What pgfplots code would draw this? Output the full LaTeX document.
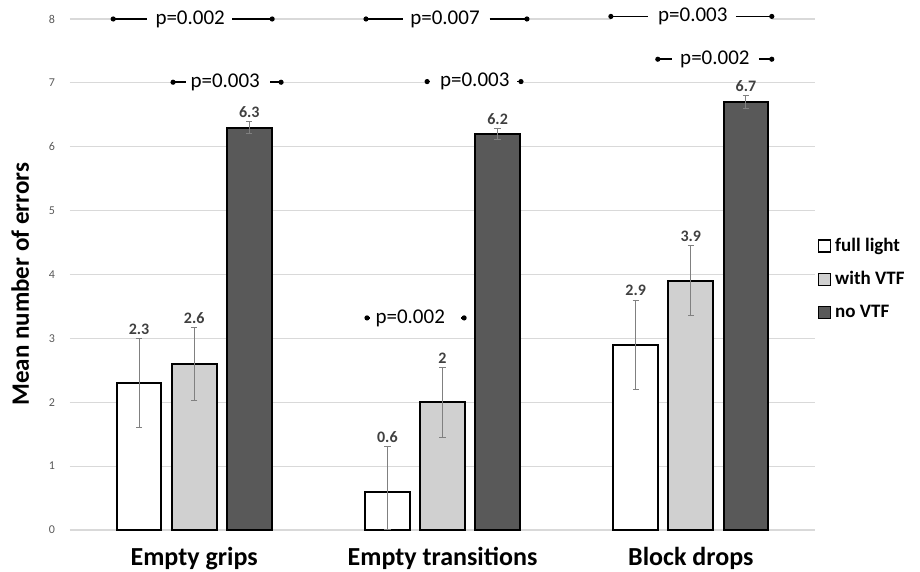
\documentclass[border=0pt]{standalone}
\usepackage{pgfplots}
\pgfplotsset{compat=1.18}
\usepackage{pgfplotstable}
\usepackage{fontspec}
\setmainfont{Carlito}
\definecolor{lgray}{HTML}{D0D0D0}
\definecolor{dgray}{HTML}{595959}
\definecolor{gridc}{HTML}{D9D9D9}
\definecolor{tickc}{HTML}{595959}
\definecolor{valc}{HTML}{404040}

\pgfplotstableread{
x y errp errm
0 2.3 0.70 0.70
1 0.6 0.70 0.60
2 2.9 0.70 0.70
}\fulllight
\pgfplotstableread{
x y errp errm
0 2.6 0.57 0.57
1 2.0 0.55 0.55
2 3.9 0.55 0.55
}\withvtf
\pgfplotstableread{
x y errp errm
0 6.3 0.10 0.10
1 6.2 0.08 0.08
2 6.7 0.10 0.10
}\novtf

% p-value annotation: left end, left line end, text x, right line start, right end, y, text
\newcommand{\pline}[7]{%
  \fill[white] ([yshift=-4pt]axis cs:#1,#6) rectangle ([yshift=4pt]axis cs:#5,#6);
  \draw[line width=0.9pt] (axis cs:#1,#6) -- (axis cs:#2,#6);
  \draw[line width=0.9pt] (axis cs:#4,#6) -- (axis cs:#5,#6);
  \fill (axis cs:#1,#6) circle (1.3pt);
  \fill (axis cs:#5,#6) circle (1.3pt);
  \node[font=\fontsize{10.5}{12}\selectfont, fill=white, inner sep=1pt] at (axis cs:#3,#6) {#7};
}

\begin{document}
\begin{tikzpicture}
\begin{axis}[
  name=ax,
  scale only axis,
  width=372.5pt, height=255.5pt,
  xmin=-0.5, xmax=2.5,
  ymin=0, ymax=8,
  clip=false,
  ybar, bar width=0.18, 
  /pgf/number format/assume math mode=true,
  axis line style={draw=none},
  major tick length=0pt,
  ytick={0,1,...,8},
  ymajorgrids, grid style={gridc, line width=0.6pt},
  yticklabel style={font=\fontsize{6}{7}\selectfont, text=tickc, xshift=-4pt},
  xtick={0,1,2},
  xticklabels={Empty grips, Empty transitions, Block drops},
  xticklabel style={font=\fontsize{13}{15}\selectfont\bfseries, yshift=-5pt},
  every axis y label/.style={at={(axis description cs:-0.067,0.481)}, rotate=90, anchor=center},
  ylabel={\fontsize{12.5}{14}\selectfont\bfseries Mean number of errors},
  legend style={at={(rel axis cs:1.003,0.491)}, anchor=west, draw=none, fill=none,
    font=\fontsize{9.5}{11}\selectfont\bfseries, row sep=4.5pt, inner sep=0pt,
    /tikz/every even column/.append style={column sep=0pt}},
  legend cell align=left,
  nodes near coords={\pgfmathprintnumber[fixed,precision=1]{\pgfplotspointmeta}},
  every node near coord/.append style={font=\fontsize{8}{9}\selectfont\bfseries, text=valc, shift={(axis direction cs:0,\ep)}, inner sep=1.5pt},
  visualization depends on={\thisrow{errp} \as \ep},
  error bars/y dir=both,
  error bars/y explicit,
  error bars/error bar style={gray, line width=0.5pt},
  error bars/error mark options={rotate=90, gray, mark size=1.6pt, line width=0.5pt},
]
\addplot[bar shift=-0.222, fill=white, draw=black, line width=1pt,
  legend image code/.code={\draw[fill=white,draw=black,line width=0.8pt] (0pt,-3pt) rectangle (6pt,3pt);}]
  table[x=x, y=y, y error plus=errp, y error minus=errm] {\fulllight};
\addplot[bar shift=0, fill=lgray, draw=black, line width=1pt,
  legend image code/.code={\draw[fill=lgray,draw=black,line width=0.8pt] (0pt,-3pt) rectangle (6pt,3pt);}]
  table[x=x, y=y, y error plus=errp, y error minus=errm] {\withvtf};
\addplot[bar shift=0.222, fill=dgray, draw=black, line width=1pt,
  legend image code/.code={\draw[fill=dgray,draw=black,line width=0.8pt] (0pt,-3pt) rectangle (6pt,3pt);}]
  table[x=x, y=y, y error plus=errp, y error minus=errm] {\novtf};
\legend{full light, with VTF, no VTF}

\pline{-0.326}{-0.189}{-0.016}{0.153}{0.314}{8.0}{p=0.002}
\pline{-0.085}{-0.032}{0.125}{0.306}{0.35}{7.01}{p=0.003}
\pline{0.692}{0.841}{1.01}{1.19}{1.34}{8.0}{p=0.007}
\pline{0.938}{0.95}{1.13}{1.30}{1.316}{7.02}{p=0.003}
\pline{0.696}{0.71}{0.87}{1.075}{1.087}{3.32}{p=0.002}
\pline{1.678}{1.827}{2.008}{2.181}{2.326}{8.04}{p=0.003}
\pline{1.867}{1.924}{2.097}{2.274}{2.326}{7.37}{p=0.002}
\end{axis}
\pgfresetboundingbox
\path ([xshift=-35pt,yshift=-21pt]ax.south west) rectangle ([xshift=52.5pt,yshift=9.5pt]ax.north east);
\end{tikzpicture}
\end{document}
